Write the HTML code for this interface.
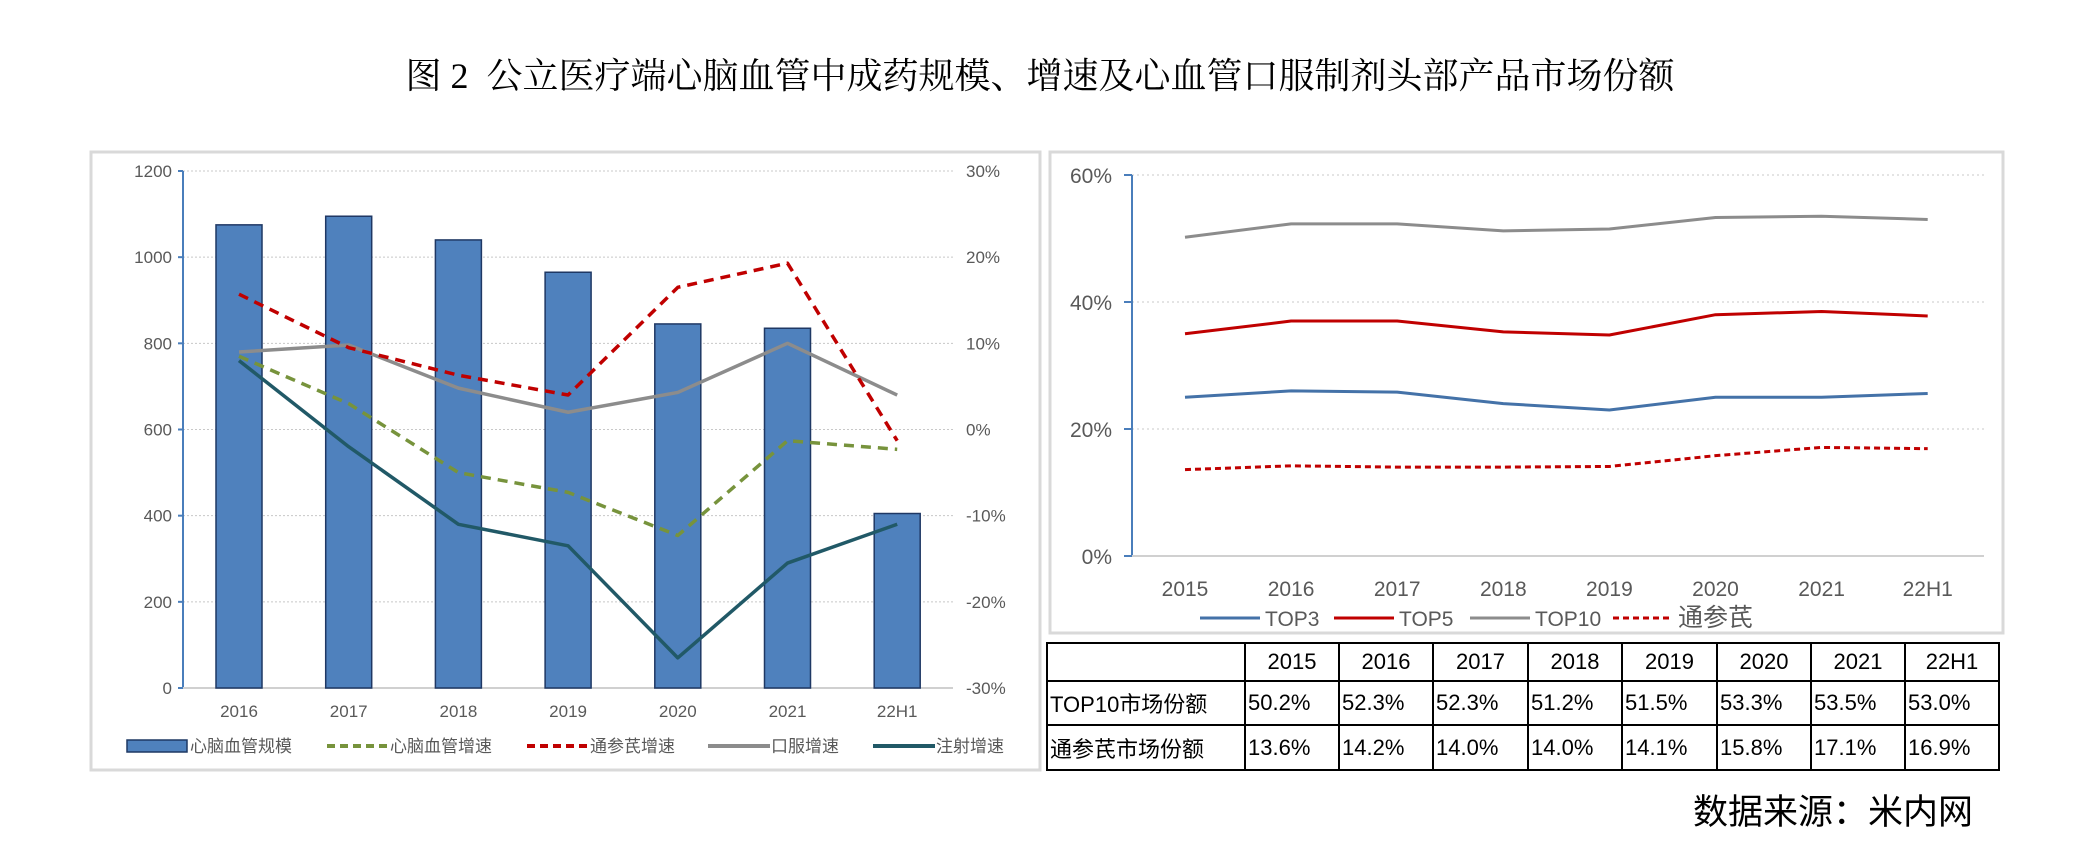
<!DOCTYPE html>
<html><head><meta charset="utf-8">
<style>
html,body{margin:0;padding:0;background:#fff;}
body{width:2080px;height:852px;position:relative;overflow:hidden;font-family:"Liberation Sans","Noto Sans CJK SC",sans-serif;}
#title{position:absolute;left:0;width:2080px;top:48px;text-align:center;font-family:"Liberation Serif","Noto Serif CJK SC",serif;font-size:36px;color:#000;}
#source{position:absolute;right:107px;top:784px;font-size:35px;color:#000;font-family:"Liberation Sans","Noto Sans CJK SC",sans-serif;}
svg{position:absolute;left:0;top:0;}
table{position:absolute;left:1046px;top:642px;border-collapse:collapse;font-size:22px;font-family:"Liberation Sans","Noto Sans CJK SC",sans-serif;}
td{border:2px solid #000;padding:0 2px;white-space:nowrap;}
</style></head><body>
<div id="title">图 2&nbsp; 公立医疗端心脑血管中成药规模、增速及心血管口服制剂头部产品市场份额</div>
<svg id="svg" width="2080" height="852"></svg>
<table>
<tr style="height:38px"><td style="width:192px"></td><td style="width:88px;text-align:center">2015</td><td style="width:88px;text-align:center">2016</td><td style="width:89px;text-align:center">2017</td><td style="width:88px;text-align:center">2018</td><td style="width:89px;text-align:center">2019</td><td style="width:88px;text-align:center">2020</td><td style="width:88px;text-align:center">2021</td><td style="width:88px;text-align:center">22H1</td></tr>
<tr style="height:44px"><td>TOP10市场份额</td><td>50.2%</td><td>52.3%</td><td>52.3%</td><td>51.2%</td><td>51.5%</td><td>53.3%</td><td>53.5%</td><td>53.0%</td></tr>
<tr style="height:45px"><td>通参芪市场份额</td><td>13.6%</td><td>14.2%</td><td>14.0%</td><td>14.0%</td><td>14.1%</td><td>15.8%</td><td>17.1%</td><td>16.9%</td></tr>
</table>
<div id="source">数据来源：米内网</div>
<script>
const leftCats=["2016","2017","2018","2019","2020","2021","22H1"];
const scaleVals=[1075,1095,1040,965,845,835,405];
const cvGrowth=[8.5,3,-5,-7.3,-12.3,-1.3,-2.3];
const tsqGrowth=[15.7,9.5,6.3,4,16.5,19.3,-1.3];
const oralGrowth=[9,9.8,4.8,2,4.3,10,4];
const injGrowth=[8,-2,-11,-13.5,-26.5,-15.5,-11];
const leftTicks=[0,200,400,600,800,1000,1200];
const rightTicks=["-30%","-20%","-10%","0%","10%","20%","30%"];
const rightCats=["2015","2016","2017","2018","2019","2020","2021","22H1"];
const top3=[25,26,25.8,24,23,25,25,25.6];
const top5=[35,37,37,35.3,34.8,38,38.5,37.8];
const top10=[50.2,52.3,52.3,51.2,51.5,53.3,53.5,53.0];
const tsqShare=[13.6,14.2,14.0,14.0,14.1,15.8,17.1,16.9];
const shareTicks=[0,20,40,60];

const svg=document.getElementById('svg');
const NS='http://www.w3.org/2000/svg';
function mk(tag,attrs,parent){const e=document.createElementNS(NS,tag);for(const k in attrs)e.setAttribute(k,attrs[k]);(parent||svg).appendChild(e);return e;}
function txt(s,x,y,attrs){const t=mk('text',Object.assign({x:x,y:y},attrs));t.textContent=s;return t;}

// ---- Left chart ----
const lp=mk('rect',{x:91,y:152,width:949,height:618,fill:'none',stroke:'#d9d9d9','stroke-width':3});


const L={x0:183,x1:953,yTop:171,yBot:688};
const ly=v=>L.yBot-(v/1200)*(L.yBot-L.yTop);
const ry=v=>L.yBot-((v+30)/60)*(L.yBot-L.yTop);
const lx=i=>239+i*109.7;
leftTicks.forEach((t,i)=>{
  const y=ly(t);
  if(t>0){const g=mk('line',{x1:L.x0,x2:L.x1,y1:y,y2:y,stroke:'#c8c8c8','stroke-dasharray':'2 2'});
  
  }
  const tl=txt(String(t),172,y+6,{'text-anchor':'end','font-size':17,fill:'#595959'});
  
  
  mk('line',{x1:L.x0-5,x2:L.x0,y1:y,y2:y,stroke:'#4a7ebb','stroke-width':2});
  const rt=txt(rightTicks[i],966,y+6,{'font-size':17,fill:'#595959'});
  
  
});
mk('line',{x1:L.x0,x2:L.x0,y1:L.yTop,y2:L.yBot,stroke:'#4a7ebb','stroke-width':2});
mk('line',{x1:L.x0,x2:L.x1,y1:L.yBot,y2:L.yBot,stroke:'#d0d0d0','stroke-width':2});
scaleVals.forEach((v,i)=>{
  const b=mk('rect',{x:lx(i)-23,y:ly(v),width:46,height:L.yBot-ly(v),fill:'#4f81bd',stroke:'#1f3864','stroke-width':1.5});
  
  
  const c=txt(leftCats[i],lx(i),717,{'text-anchor':'middle','font-size':17,fill:'#595959'});
  
  
});
function poly(arr,xf,yf,color,dash,w,name){
  const p=mk('polyline',{points:arr.map((v,i)=>xf(i)+','+yf(v)).join(' '),fill:'none',stroke:color,'stroke-width':w,'stroke-dasharray':dash||'none','stroke-linejoin':'round'});
  
  
}
poly(cvGrowth,lx,ry,'#77933c','10 7',3.5,'line-cv-growth');
poly(oralGrowth,lx,ry,'#8c8c8c','',3.5,'line-oral-growth');
poly(tsqGrowth,lx,ry,'#c00000','10 7',3.5,'line-tsq-growth');
poly(injGrowth,lx,ry,'#215967','',3.5,'line-injection-growth');
const leg=[
 {n:'心脑血管规模',x:127,t:'bar'},
 {n:'心脑血管增速',x:327,c:'#77933c',d:'8 5'},
 {n:'通参芪增速',x:527,c:'#c00000',d:'8 5'},
 {n:'口服增速',x:708,c:'#8c8c8c'},
 {n:'注射增速',x:873,c:'#215967'}];
leg.forEach(o=>{
  const y=746;
  if(o.t==='bar') mk('rect',{x:o.x,y:y-6,width:60,height:12,fill:'#4f81bd',stroke:'#1f3864','stroke-width':1.5});
  else mk('line',{x1:o.x,x2:o.x+62,y1:y,y2:y,stroke:o.c,'stroke-width':4,'stroke-dasharray':o.d||'none'});
  const t=txt(o.n,o.x+63,y+6,{'font-size':17,fill:'#595959'});
  
  
});

// ---- Right chart ----
const rp=mk('rect',{x:1050,y:152,width:953,height:481,fill:'none',stroke:'#d9d9d9','stroke-width':3});


const R={x0:1132,x1:1984,yTop:175,yBot:556};
const sy=v=>R.yBot-(v/60)*(R.yBot-R.yTop);
const sx=i=>1185+i*106.1;
shareTicks.forEach(t=>{
  const y=sy(t);
  if(t>0){const g=mk('line',{x1:R.x0,x2:R.x1,y1:y,y2:y,stroke:'#c8c8c8','stroke-dasharray':'2 3'});
  
  }
  mk('line',{x1:R.x0-8,x2:R.x0,y1:y,y2:y,stroke:'#4a7ebb','stroke-width':2});
  const tl=txt(t+'%',1112,y+8,{'text-anchor':'end','font-size':21,fill:'#595959'});
  
  
});
mk('line',{x1:R.x0,x2:R.x0,y1:R.yTop,y2:R.yBot,stroke:'#4a7ebb','stroke-width':2});
mk('line',{x1:R.x0,x2:R.x1,y1:R.yBot,y2:R.yBot,stroke:'#d0d0d0','stroke-width':2});
rightCats.forEach((c,i)=>{
  const t=txt(c,sx(i),596,{'text-anchor':'middle','font-size':21,fill:'#595959'});
  
  
});
poly(top10,sx,sy,'#8c8c8c','',3,'line-top10');
poly(top5,sx,sy,'#c00000','',3,'line-top5');
poly(top3,sx,sy,'#4472a8','',3,'line-top3');
poly(tsqShare,sx,sy,'#c00000','6 4',3,'line-tsq-share');
const leg2=[{n:'TOP3',x:1200,c:'#4472a8'},{n:'TOP5',x:1334,c:'#c00000'},{n:'TOP10',x:1470,c:'#8c8c8c'},{n:'通参芪',x:1613,c:'#c00000',d:'6 4'}];
leg2.forEach(o=>{
  const y=618;
  mk('line',{x1:o.x,x2:o.x+60,y1:y,y2:y,stroke:o.c,'stroke-width':3,'stroke-dasharray':o.d||'none'});
  const t=txt(o.n,o.x+65,y+8,{'font-size':o.n==='通参芪'?25:21,fill:'#595959'});
  
  
});
</script>
</body></html>
